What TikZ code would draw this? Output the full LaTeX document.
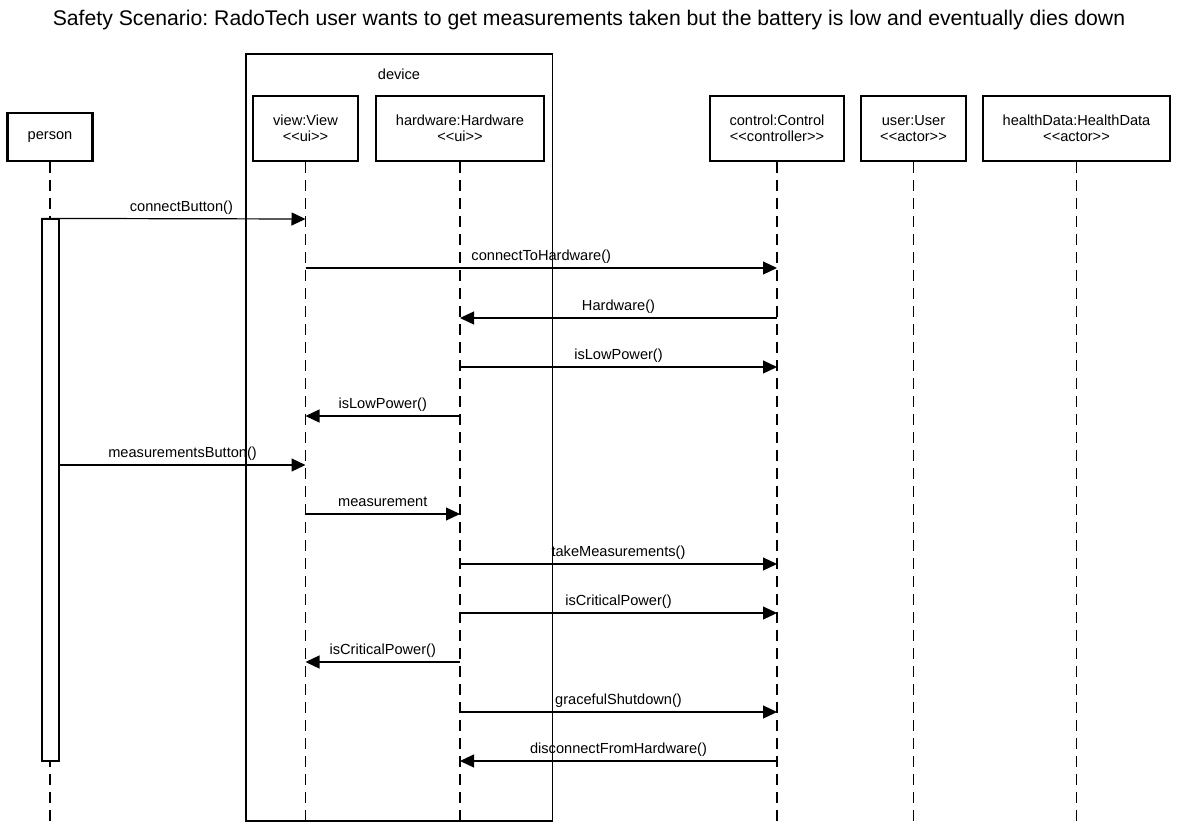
\documentclass[tikz,border=0pt]{standalone}
\usepackage{fontspec}
\setmainfont{Liberation Sans}
\usetikzlibrary{arrows.meta}
\newcommand{\stereo}[1]{{<}{<}#1{>}{>}}
\frenchspacing
\begin{document}
\begin{tikzpicture}[x=0.5pt, y=-0.5pt,
		lifebox/.style={draw, line width=1.35pt, minimum height=32.5pt, align=center, font=\fontsize{7.3}{8}\selectfont, inner sep=0pt},
		lifeline/.style={line width=0.6pt, dash pattern=on 5.5pt off 3.5pt},
		msg/.style={-{Triangle[length=7pt, width=6.5pt]}, line width=0.6pt},
		msglabel/.style={above, font=\fontsize{7.3}{8}\selectfont, text height=5pt, text depth=1.5pt, inner sep=2pt}]
		\useasboundingbox (0,0) rectangle (1179,831);
		\node[font=\fontsize{10.6}{12}\selectfont] (title) at (589,20) {Safety Scenario: RadoTech user wants to get measurements taken but the battery is low and eventually dies down};
		\draw [line width=0.6pt] (246,54) rectangle (552.5,821);
		\node[font=\fontsize{7.3}{8}\selectfont] (devicelabel) at (399,74) {device};
		\node[lifebox, minimum width=42.5pt, minimum height=24pt] (person) at (50,137) {person};
		\node[lifebox, minimum width=52.5pt] (view) at (305.5,128.5) {view:View\\\stereo{ui}};
		\node[lifebox, minimum width=84pt] (hardware) at (460,128.5) {hardware:Hardware\\\stereo{ui}};
		\node[lifebox, minimum width=67pt] (control) at (777,128.5) {control:Control\\\stereo{controller}};
		\node[lifebox, minimum width=52.5pt] (user) at (913.5,128.5) {user:User\\\stereo{actor}};
		\node[lifebox, minimum width=93.5pt] (healthData) at (1076.5,128.5) {healthData:HealthData\\\stereo{actor}};
		\coordinate (bottom) at (0,821);
		\draw [lifeline] (person.south) -- (person.south |- bottom);
		\draw [lifeline] (view.south) -- (view.south |- bottom);
		\draw [lifeline] (hardware.south) -- (hardware.south |- bottom);
		\draw [lifeline] (control.south) -- (control.south |- bottom);
		\draw [lifeline] (user.south) -- (user.south |- bottom);
		\draw [lifeline] (healthData.south) -- (healthData.south |- bottom);
		\node[draw, fill=white, line width=0.6pt, minimum width=8.5pt, minimum height=271pt, inner sep=0pt] (act) at (50.5,490) {};
		\coordinate (m1) at (0,219);
		\coordinate (m2) at (0,268);
		\coordinate (m3) at (0,318);
		\coordinate (m4) at (0,367);
		\coordinate (m5) at (0,416);
		\coordinate (m6) at (0,465);
		\coordinate (m7) at (0,514);
		\coordinate (m8) at (0,564);
		\coordinate (m9) at (0,613);
		\coordinate (m10) at (0,662);
		\coordinate (m11) at (0,712);
		\coordinate (m12) at (0,761);
		\draw [msg] (act.north west) -- (view |- m1) node[msglabel, pos=0.53]{connectButton()};
		\draw [msg] (view |- m2) -- (control |- m2) node[msglabel, midway]{connectToHardware()};
		\draw [msg] (control |- m3) -- (hardware |- m3) node[msglabel, midway]{Hardware()};
		\draw [msg] (hardware |- m4) -- (control |- m4) node[msglabel, midway]{isLowPower()};
		\draw [msg] (hardware |- m5) -- (view |- m5) node[msglabel, midway]{isLowPower()};
		\draw [msg] (act.east |- m6) -- (view |- m6) node[msglabel, midway]{measurementsButton()};
		\draw [msg] (view |- m7) -- (hardware |- m7) node[msglabel, midway]{measurement};
		\draw [msg] (hardware |- m8) -- (control |- m8) node[msglabel, midway]{takeMeasurements()};
		\draw [msg] (hardware |- m9) -- (control |- m9) node[msglabel, midway]{isCriticalPower()};
		\draw [msg] (hardware |- m10) -- (view |- m10) node[msglabel, midway]{isCriticalPower()};
		\draw [msg] (hardware |- m11) -- (control |- m11) node[msglabel, midway]{gracefulShutdown()};
		\draw [msg] (control |- m12) -- (hardware |- m12) node[msglabel, midway]{disconnectFromHardware()};
	\end{tikzpicture}
\end{document}
